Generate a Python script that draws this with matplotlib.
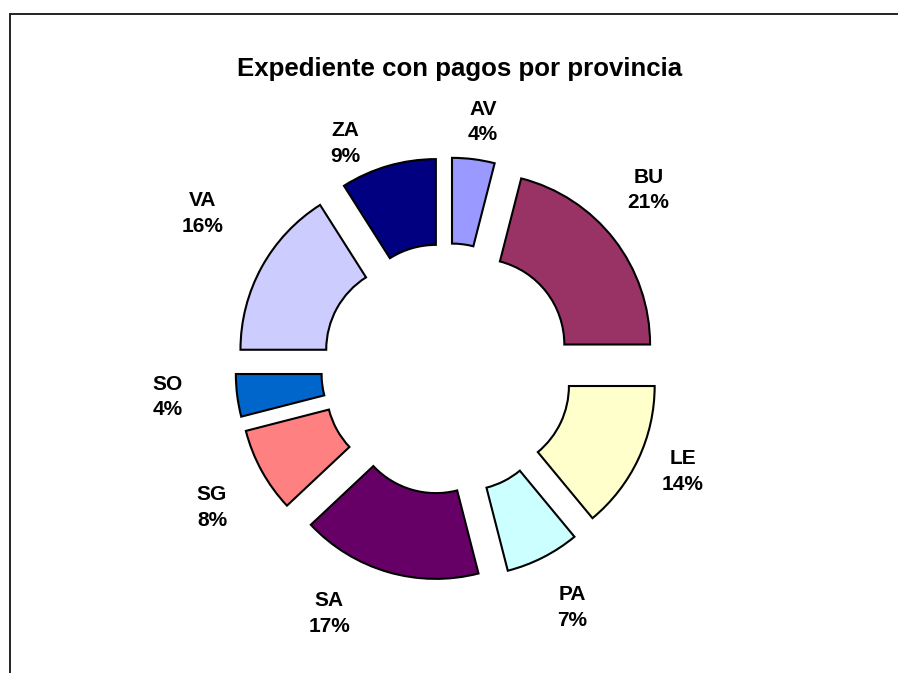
import matplotlib
matplotlib.use('Agg')
import matplotlib.pyplot as plt
from matplotlib.patches import Rectangle

plt.rcParams['font.family'] = ['Liberation Sans', 'DejaVu Sans']

# Data
provincias = ['AV', 'BU', 'LE', 'PA', 'SA', 'SG', 'SO', 'VA', 'ZA']
porcentajes = [4, 21, 14, 7, 17, 8, 4, 16, 9]
colores = ['#9999FF', '#993366', '#FFFFCC', '#CCFFFF', '#660066',
           '#FF8080', '#0066CC', '#CCCCFF', '#000080']

# Layout (pixels, measured from top-left of the image)
W, H = 898, 673
R_PX = 171.5            # outer radius
CX, CY = 447, 369       # donut centre
LABEL_XY_PX = [(483, 122), (648.5, 190), (683, 471.5), (572.5, 607.5),
               (329, 613.5), (212, 507.5), (168, 397), (203, 213.5),
               (345, 143.6)]

fig = plt.figure(figsize=(W / 100, H / 100), dpi=100)
ax = fig.add_axes([0, 0, 1, 1])

wedges, _ = ax.pie(porcentajes, colors=colores, startangle=90,
                   counterclock=False, radius=1.0,
                   explode=[0.233] * len(porcentajes),
                   wedgeprops=dict(width=0.5, edgecolor='black', linewidth=1.5))

# 1 data unit = R_PX pixels
ax.set_xlim(-CX / R_PX, (W - CX) / R_PX)
ax.set_ylim(-(H - CY) / R_PX, CY / R_PX)
ax.set_aspect('equal')
ax.axis('off')

for (px, py), name, pct in zip(LABEL_XY_PX, provincias, porcentajes):
    ax.text((px - CX) / R_PX, (CY - py) / R_PX, f'{name}\n{pct}%',
            ha='center', va='center', fontsize=15, fontweight='bold',
            linespacing=1.45)

fig.text(460 / W, 1 - 76 / H, 'Expediente con pagos por provincia',
         ha='center', va='baseline', fontsize=18.6, fontweight='bold')

# chart area border (runs off the right and bottom of the image)
fig.patches.append(Rectangle((10 / W, -0.05), 1.0, 1 - 14 / H + 0.05,
                             transform=fig.transFigure, fill=False,
                             edgecolor='#222222', linewidth=1.4))

fig.savefig('out.png', dpi=100, facecolor='white')
